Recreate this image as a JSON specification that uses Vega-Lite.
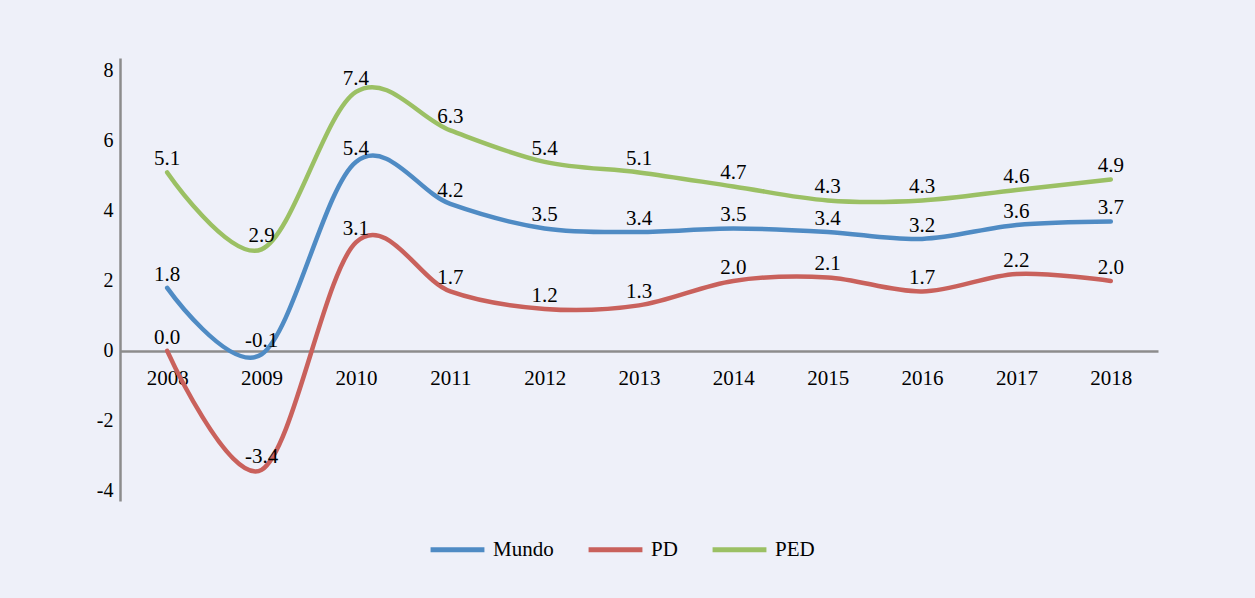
{
  "$schema": "https://vega.github.io/schema/vega-lite/v6.json",
  "width": 1038,
  "height": 443,
  "autosize": "none",
  "padding": {"left": 120, "top": 58, "right": 97, "bottom": 97},
  "background": "#eef0f9",
  "config": {
    "view": {"stroke": null},
    "font": "Liberation Serif",
    "text": {"font": "Liberation Serif"},
    "locale": {
      "number": {"decimal": ".", "thousands": ",", "grouping": [3], "currency": ["$", ""], "minus": "-"}
    }
  },
  "data": {
    "values": [
      {"year": "2008", "serie": "Mundo", "v": 1.8},
      {"year": "2009", "serie": "Mundo", "v": -0.1},
      {"year": "2010", "serie": "Mundo", "v": 5.4},
      {"year": "2011", "serie": "Mundo", "v": 4.2},
      {"year": "2012", "serie": "Mundo", "v": 3.5},
      {"year": "2013", "serie": "Mundo", "v": 3.4},
      {"year": "2014", "serie": "Mundo", "v": 3.5},
      {"year": "2015", "serie": "Mundo", "v": 3.4},
      {"year": "2016", "serie": "Mundo", "v": 3.2},
      {"year": "2017", "serie": "Mundo", "v": 3.6},
      {"year": "2018", "serie": "Mundo", "v": 3.7},
      {"year": "2008", "serie": "PD", "v": 0.0},
      {"year": "2009", "serie": "PD", "v": -3.4},
      {"year": "2010", "serie": "PD", "v": 3.1},
      {"year": "2011", "serie": "PD", "v": 1.7},
      {"year": "2012", "serie": "PD", "v": 1.2},
      {"year": "2013", "serie": "PD", "v": 1.3},
      {"year": "2014", "serie": "PD", "v": 2.0},
      {"year": "2015", "serie": "PD", "v": 2.1},
      {"year": "2016", "serie": "PD", "v": 1.7},
      {"year": "2017", "serie": "PD", "v": 2.2},
      {"year": "2018", "serie": "PD", "v": 2.0},
      {"year": "2008", "serie": "PED", "v": 5.1},
      {"year": "2009", "serie": "PED", "v": 2.9},
      {"year": "2010", "serie": "PED", "v": 7.4},
      {"year": "2011", "serie": "PED", "v": 6.3},
      {"year": "2012", "serie": "PED", "v": 5.4},
      {"year": "2013", "serie": "PED", "v": 5.1},
      {"year": "2014", "serie": "PED", "v": 4.7},
      {"year": "2015", "serie": "PED", "v": 4.3},
      {"year": "2016", "serie": "PED", "v": 4.3},
      {"year": "2017", "serie": "PED", "v": 4.6},
      {"year": "2018", "serie": "PED", "v": 4.9}
    ]
  },
  "encoding": {
    "x": {
      "field": "year",
      "type": "ordinal",
      "scale": {"type": "point", "padding": 0.5},
      "axis": {
        "title": null,
        "orient": "bottom",
        "offset": -150,
        "labelAngle": 0,
        "ticks": false,
        "grid": false,
        "domainColor": "#8c8c8c",
        "domainWidth": 2.5,
        "labelFont": "Liberation Serif",
        "labelFontSize": 21,
        "labelColor": "#000000",
        "labelPadding": 16
      }
    },
    "y": {
      "field": "v",
      "type": "quantitative",
      "scale": {"domain": [-4.29, 8.37], "nice": false, "zero": false},
      "axis": {
        "title": null,
        "values": [-4, -2, 0, 2, 4, 6, 8],
        "ticks": false,
        "grid": false,
        "domainColor": "#8c8c8c",
        "domainWidth": 2.5,
        "labelFont": "Liberation Serif",
        "labelFontSize": 20,
        "labelColor": "#000000",
        "labelPadding": 7
      }
    }
  },
  "layer": [
    {
      "mark": {"type": "line", "interpolate": "cardinal", "strokeWidth": 4.5, "strokeCap": "round"},
      "encoding": {
        "color": {
          "field": "serie",
          "type": "nominal",
          "scale": {"domain": ["Mundo", "PD", "PED"], "range": ["#4f8bc4", "#c9615c", "#9bc064"]},
          "legend": {
            "title": null,
            "orient": "none",
            "direction": "horizontal",
            "legendX": 308,
            "legendY": 462,
            "symbolType": "stroke",
            "symbolSize": 2900,
            "symbolStrokeWidth": 5,
            "labelFont": "Liberation Serif",
            "labelFontSize": 21,
            "labelColor": "#000000",
            "labelOffset": 6,
            "columnPadding": 24
          }
        }
      }
    },
    {
      "mark": {"type": "text", "fontSize": 21, "baseline": "alphabetic", "dy": -7, "color": "#000000"},
      "encoding": {
        "text": {"field": "v", "type": "quantitative", "format": ".1f"}
      }
    }
  ]
}
